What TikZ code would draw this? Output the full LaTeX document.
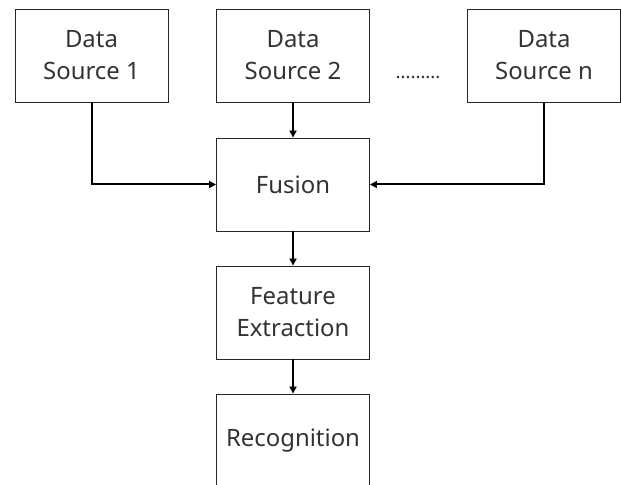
\documentclass[tikz,border=0pt]{standalone}
\usepackage{fontspec}
\setmainfont{Noto Sans}
\usetikzlibrary{arrows.meta}
\begin{document}
\begin{tikzpicture}[x=1bp,y=-1bp,
  box/.style={draw=black!85,line width=0.9bp,minimum width=153bp,minimum height=93bp,
    inner sep=0pt,align=center,font=\fontsize{24}{32}\selectfont,text=black!80},
  flow/.style={line width=2bp,-{Triangle[length=7bp,width=7bp]}}]
\useasboundingbox (0,0) rectangle (621,485);
\clip (0,0) rectangle (621,485);
\node[box] (s1) at (91.5,55.5) {Data\\Source 1};
\node[box] (s2) at (293,55.5) {Data\\Source 2};
\node[box] (sn) at (544,55.5) {Data\\Source n};
\node[font=\fontsize{19}{20}\selectfont,text=black!80] (dots) at (418,77) {………};
\node[box] (fu) at (293,184.5) {Fusion};
\node[box] (fe) at (293,312.5) {Feature\\Extraction};
\node[box] (re) at (293,440.5) {Recognition};
\draw[flow] (s1.south) |- (fu.west);
\draw[flow] (sn.south) |- (fu.east);
\draw[flow] (s2) -- (fu);
\draw[flow] (fu) -- (fe);
\draw[flow] (fe) -- (re);
\end{tikzpicture}
\end{document}
